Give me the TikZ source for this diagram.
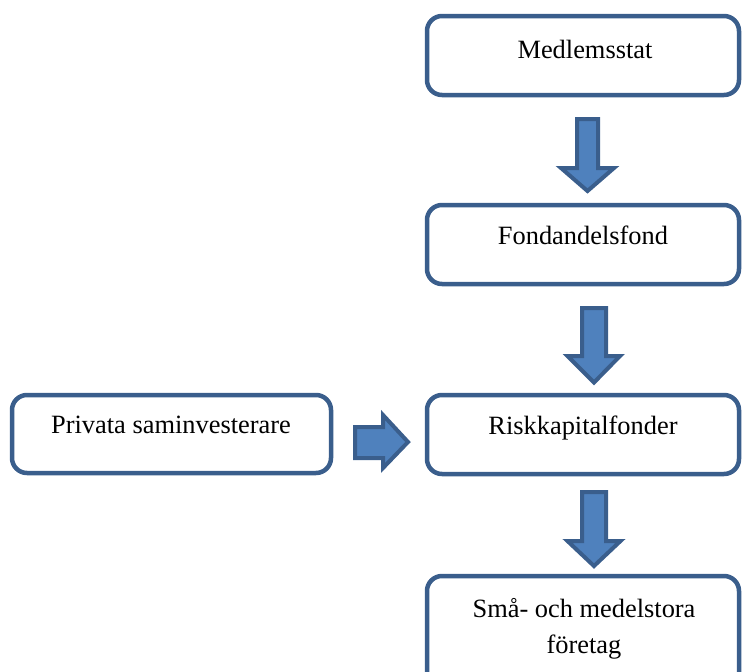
\documentclass[tikz,border=0pt]{standalone}
\usepackage{fontspec}
\setmainfont{Liberation Serif}
\definecolor{edgeblue}{RGB}{58,94,140}
\definecolor{fillblue}{RGB}{79,129,189}
\tikzset{
  x=1pt, y=-1pt,
  flowbox/.style={draw=edgeblue, line width=4.5pt, rounded corners=15pt, fill=white},
  boxtext/.style={anchor=base, font=\fontsize{26.4}{36}\selectfont, inner sep=0pt, align=center},
  blockarrow/.style={draw=edgeblue, fill=fillblue, line width=4pt, line join=miter}
}
\begin{document}
\begin{tikzpicture}
\useasboundingbox (0,0) rectangle (742,672);
\begin{scope}
\clip (0,0) rectangle (742,672);
% boxes
\draw[flowbox] (427,16) rectangle (739,95);
\draw[flowbox] (427,205) rectangle (739,284);
\draw[flowbox] (427,395) rectangle (739,474);
\draw[flowbox] (12,395) rectangle (331,473);
\draw[flowbox] (427,576) rectangle (739,690);
% texts
\node[boxtext] (medlem) at (585,58) {Medlemsstat};
\node[boxtext] (fond) at (583,244) {Fondandelsfond};
\node[boxtext] (risk) at (583,434) {Riskkapitalfonder};
\node[boxtext] (priv) at (171,433) {Privata saminvesterare};
\node[boxtext] (sme) at (584,617) {Små- och medelstora};
\node[boxtext] (sme2) at (584,653) {företag};
% block arrows
\draw[blockarrow] (577,119) -- (598,119) -- (598,168) -- (614,168)
  -- (587.5,191) -- (561,168) -- (577,168) -- cycle;
\draw[blockarrow] (582,308) -- (606,308) -- (606,356) -- (620,356)
  -- (594,382.5) -- (567.5,356) -- (582,356) -- cycle;
\draw[blockarrow] (582,492) -- (606,492) -- (606,541) -- (620.5,541)
  -- (594,566) -- (567.5,541) -- (582,541) -- cycle;
\draw[blockarrow] (355,427) -- (383,427) -- (383,415) -- (408,442)
  -- (383,468) -- (383,458) -- (355,458) -- cycle;
\end{scope}
\end{tikzpicture}
\end{document}
